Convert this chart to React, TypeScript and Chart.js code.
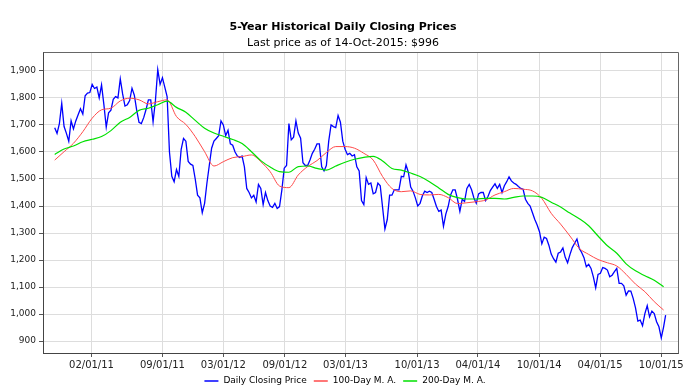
import React, { useEffect, useRef } from "react";
import { Chart, registerables } from "chart.js";

Chart.register(...registerables);

const DAY = 86400000;

const titleText = "5-Year Historical Daily Closing Prices";
const subtitleText = "Last price as of 14-Oct-2015: $996";
const legendLabels = ["Daily Closing Price", "100-Day M. A.", "200-Day M. A."];

// first observation (weekly sampling of the daily closes)
const firstDate = [2010, 10, 14];
const lastDate = [2015, 10, 14];

const xTickLabels = [
  "02/01/11", "09/01/11", "03/01/12", "09/01/12", "03/01/13",
  "10/01/13", "04/01/14", "10/01/14", "04/01/15", "10/01/15",
];
const yTickValues = [900, 1000, 1100, 1200, 1300, 1400, 1500, 1600, 1700, 1800, 1900];

// weekly closes
const closePrices = [
  1690, 1669, 1705, 1780, 1694, 1669, 1640, 1715, 1685, 1715,
  1738, 1760, 1740, 1808, 1818, 1820, 1850, 1835, 1840, 1800,
  1848, 1775, 1692, 1745, 1755, 1795, 1805, 1800, 1870, 1815,
  1770, 1775, 1790, 1836, 1810, 1755, 1710, 1705, 1727, 1757,
  1793, 1793, 1712, 1790, 1905, 1850, 1875, 1840, 1805, 1600,
  1510, 1490, 1535, 1510, 1610, 1650, 1640, 1565, 1555, 1550,
  1500, 1440, 1430, 1375, 1410, 1485, 1550, 1614, 1640, 1650,
  1660, 1715, 1700, 1660, 1680, 1630, 1625, 1600, 1585, 1580,
  1585, 1545, 1465, 1450, 1430, 1440, 1415, 1480, 1465, 1405,
  1450, 1420, 1400, 1395, 1410, 1391, 1398, 1460, 1540, 1550,
  1705, 1645, 1655, 1715, 1670, 1651, 1560, 1550, 1550, 1570,
  1595, 1610, 1630, 1630, 1545, 1530, 1550, 1640, 1700, 1694,
  1690, 1735, 1710, 1640, 1610, 1590, 1595, 1585, 1590, 1545,
  1530, 1420, 1405, 1505, 1480, 1485, 1445, 1450, 1485, 1475,
  1395, 1315, 1350, 1440, 1440, 1460, 1460, 1460, 1510, 1508,
  1552, 1525, 1470, 1455, 1430, 1400, 1410, 1438, 1455, 1450,
  1455, 1450, 1425, 1398, 1380, 1385, 1325, 1370, 1398, 1440,
  1460, 1460, 1425, 1380, 1425, 1417, 1465, 1480, 1460, 1430,
  1410, 1445, 1450, 1450, 1420, 1435, 1457, 1470, 1482, 1465,
  1480, 1450, 1475, 1490, 1508, 1493, 1485, 1480, 1472, 1465,
  1462, 1425, 1410, 1400, 1375, 1350, 1330, 1305, 1260, 1285,
  1280, 1255, 1222, 1205, 1192, 1225, 1230, 1245, 1210, 1190,
  1220, 1246, 1262, 1278, 1243, 1228, 1209, 1175, 1184, 1169,
  1138, 1097, 1147, 1151, 1172, 1169, 1163, 1138, 1144, 1157,
  1169, 1114, 1114, 1105, 1070, 1086, 1085, 1058, 1023, 974,
  978, 957, 1002, 1031, 990, 1011, 1002, 972, 953, 912,
  953, 996,
];

// moving averages, every 4th week
const ma100 = [
  1570, 1601, 1632, 1675, 1725, 1756, 1762, 1789, 1799, 1793, 1778,
  1786, 1793, 1731, 1702, 1657, 1601, 1548, 1564, 1579, 1583, 1589,
  1564, 1527, 1474, 1468, 1515, 1546, 1568, 1598, 1620, 1620, 1614,
  1595, 1570, 1509, 1465, 1453, 1456, 1443, 1441, 1443, 1431, 1409,
  1412, 1416, 1422, 1441, 1453, 1465, 1462, 1456, 1428, 1373, 1333,
  1289, 1243, 1221, 1202, 1190, 1178, 1147, 1111, 1083, 1046, 1015,
];
const ma200 = [
  1591, 1611, 1622, 1638, 1647, 1657, 1679, 1710, 1728, 1754, 1762,
  1775, 1788, 1765, 1747, 1717, 1688, 1670, 1658, 1646, 1631, 1601,
  1568, 1544, 1527, 1525, 1546, 1548, 1539, 1533, 1548, 1562, 1573,
  1580, 1584, 1567, 1539, 1533, 1522, 1509, 1490, 1467, 1443, 1431,
  1426, 1426, 1428, 1428, 1426, 1432, 1437, 1437, 1432, 1414, 1396,
  1374, 1353, 1327, 1289, 1253, 1225, 1186, 1160, 1142, 1125, 1101,
];

const COLORS = ["#0000ff", "#ff4a4a", "#00e000"];

function dayNum(y: number, m: number, d: number) {
  return Date.UTC(y, m - 1, d) / DAY;
}
function labelToDay(s: string) {
  const [mm, dd, yy] = s.split("/").map(Number);
  return dayNum(2000 + yy, mm, dd);
}

export default function App() {
  const ref = useRef<HTMLCanvasElement | null>(null);

  useEffect(() => {
    const canvas = ref.current;
    if (!canvas) return;
    const start = dayNum(firstDate[0], firstDate[1], firstDate[2]);
    const end = dayNum(lastDate[0], lastDate[1], lastDate[2]);
    const tickDays = xTickLabels.map(labelToDay);
    const labelMap = new Map<number, string>();
    xTickLabels.forEach((l, i) => labelMap.set(tickDays[i], l));

    const weekly = (arr: number[], step: number) =>
      arr.map((v, i) => ({ x: Math.min(start + i * 7 * step, end), y: v }));

    const decor = {
      id: "decor",
      afterDraw(chart: any) {
        const { ctx, chartArea } = chart;
        ctx.save();
        // top and right frame
        ctx.strokeStyle = "#666";
        ctx.lineWidth = 1;
        ctx.beginPath();
        ctx.moveTo(Math.round(chartArea.left) + 0.5, Math.round(chartArea.top) + 0.5);
        ctx.lineTo(Math.round(chartArea.right) + 0.5, Math.round(chartArea.top) + 0.5);
        ctx.lineTo(Math.round(chartArea.right) + 0.5, Math.round(chartArea.bottom) + 0.5);
        ctx.stroke();
        // titles
        ctx.fillStyle = "#000";
        ctx.textAlign = "center";
        ctx.textBaseline = "middle";
        ctx.font = 'bold 11px "DejaVu Sans"';
        ctx.fillText(titleText, 343, 27);
        ctx.font = '11px "DejaVu Sans"';
        ctx.fillText(subtitleText, 343, 43);
        // legend
        ctx.font = '9px "DejaVu Sans"';
        ctx.textAlign = "left";
        const lineLen = 14, gap = 5, itemGap = 7;
        const widths = legendLabels.map((t) => ctx.measureText(t).width);
        const total = widths.reduce((a, w) => a + lineLen + gap + w, 0) + itemGap * (legendLabels.length - 1);
        let x = 345 - total / 2;
        const y = 381;
        legendLabels.forEach((t, i) => {
          ctx.strokeStyle = COLORS[i];
          ctx.lineWidth = 1.5;
          ctx.beginPath();
          ctx.moveTo(x, y);
          ctx.lineTo(x + lineLen, y);
          ctx.stroke();
          ctx.fillStyle = "#000";
          ctx.fillText(t, x + lineLen + gap, y);
          x += lineLen + gap + widths[i] + itemGap;
        });
        ctx.restore();
      },
    };

    const chart = new Chart(canvas, {
      type: "line",
      data: {
        datasets: [
          {
            label: legendLabels[0],
            data: weekly(closePrices, 1),
            borderColor: COLORS[0],
            borderWidth: 1.3,
            pointRadius: 0,
            order: 2,
          },
          {
            label: legendLabels[1],
            data: weekly(ma100, 4),
            borderColor: COLORS[1],
            borderWidth: 1,
            pointRadius: 0,
            cubicInterpolationMode: "monotone",
            order: 1,
          },
          {
            label: legendLabels[2],
            data: weekly(ma200, 4),
            borderColor: COLORS[2],
            borderWidth: 1.2,
            pointRadius: 0,
            cubicInterpolationMode: "monotone",
            order: 0,
          },
        ],
      },
      options: {
        responsive: false,
        animation: false,
        layout: { padding: { top: 52, right: 22, left: 0, bottom: 0 } },
        plugins: {
          legend: { display: false },
          title: { display: false },
          tooltip: { enabled: false },
        },
        scales: {
          x: {
            type: "linear",
            min: dayNum(2010, 9, 9),
            max: dayNum(2015, 11, 20),
            afterBuildTicks: (s: any) => {
              s.ticks = tickDays.map((v) => ({ value: v }));
            },
            afterFit: (s: any) => {
              s.height = 37;
            },
            ticks: {
              autoSkip: false,
              maxRotation: 0,
              padding: 2,
              color: "#222",
              font: { family: "DejaVu Sans", size: 10 },
              callback: (v: any) => labelMap.get(Number(v)) ?? "",
            },
            grid: { color: "#dddddd", tickLength: 4, tickColor: "#555" },
            border: { color: "#444" },
          },
          y: {
            type: "linear",
            min: 856,
            max: 1970,
            afterBuildTicks: (s: any) => {
              s.ticks = yTickValues.map((v) => ({ value: v }));
            },
            afterFit: (s: any) => {
              s.width = 43;
            },
            ticks: {
              padding: 3,
              color: "#222",
              font: { family: "DejaVu Sans", size: 9 },
              callback: (v: any) => Number(v).toLocaleString("en-US"),
            },
            grid: { color: "#dddddd", tickLength: 4, tickColor: "#555" },
            border: { color: "#444" },
          },
        },
      },
      plugins: [decor],
    });
    return () => chart.destroy();
  }, []);

  return (
    <div style={{ position: "fixed", left: 0, top: 0, width: 700, height: 390, background: "#fff" }}>
      <canvas ref={ref} width={700} height={390} style={{ display: "block" }} />
    </div>
  );
}
